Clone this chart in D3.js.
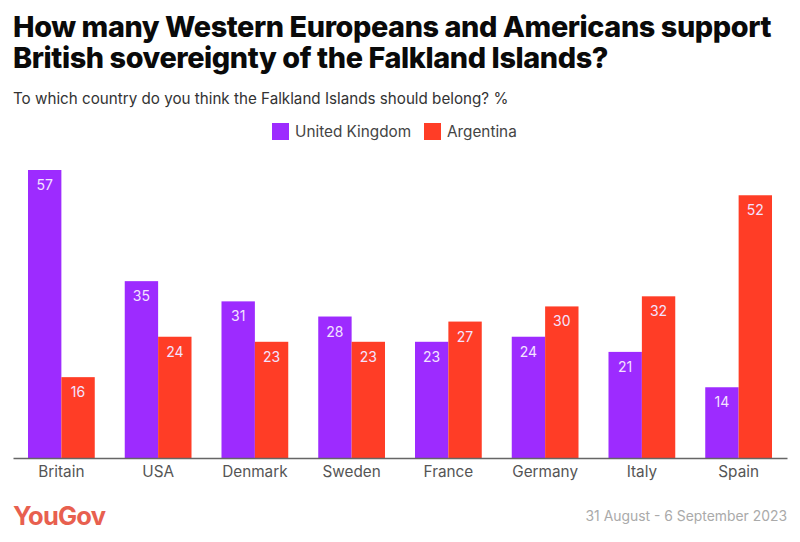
<!DOCTYPE html>
<html>
<head>
<meta charset="utf-8">
<script src="https://cdn.jsdelivr.net/npm/d3@7"></script>
<style>
body{margin:0;background:#fff;}
svg{display:block;font-family:Inter,sans-serif;}
</style>
</head>
<body>
<div id="chart"></div>
<script>
const countries=["Britain","USA","Denmark","Sweden","France","Germany","Italy","Spain"];
const seriesNames=["United Kingdom","Argentina"];
const ukValues=[57,35,31,28,23,24,21,14];
const argValues=[16,24,23,23,27,30,32,52];
const colors=["#9d2bff","#ff3d26"];

const width=800,height=542;
const svg=d3.select("#chart").append("svg").attr("width",width).attr("height",height);

const x=d3.scaleBand().domain(countries).range([13,787]).paddingInner(0.31).paddingOuter(0.155);
const x1=d3.scaleBand().domain(seriesNames).range([0,x.bandwidth()]);
const y=d3.scaleLinear().domain([0,57]).range([458,170]);

// title block
svg.selectAll(".title").data(["How many Western Europeans and Americans support","British sovereignty of the Falkland Islands?"])
  .enter().append("text").attr("class","title")
  .attr("x",13).attr("y",(d,i)=>37+i*31)
  .attr("font-size",28.8).attr("font-weight",800).attr("letter-spacing",-0.4).attr("fill","#0a0a0a")
  .text(d=>d);
svg.append("text").attr("x",13).attr("y",104).attr("font-size",15.2).attr("fill","#333")
  .text("To which country do you think the Falkland Islands should belong? %");

// legend
const legendX=[272,424];
seriesNames.forEach((name,i)=>{
  svg.append("rect").attr("x",legendX[i]).attr("y",123).attr("width",17).attr("height",17).attr("fill",colors[i]);
  svg.append("text").attr("x",legendX[i]+23).attr("y",137).attr("font-size",15.3).attr("fill","#444").text(name);
});

// bars
[ukValues,argValues].forEach((values,s)=>{
  const g=svg.append("g");
  g.selectAll("rect").data(values).enter().append("rect")
    .attr("x",(d,i)=>x(countries[i])+x1(seriesNames[s]))
    .attr("y",d=>y(d))
    .attr("width",x1.bandwidth())
    .attr("height",d=>y(0)-y(d))
    .attr("fill",colors[s]);
  g.selectAll("text").data(values).enter().append("text")
    .attr("x",(d,i)=>x(countries[i])+x1(seriesNames[s])+x1.bandwidth()/2)
    .attr("y",d=>y(d)+20)
    .attr("text-anchor","middle").attr("font-size",14).attr("fill","#f3e3ff")
    .text(d=>d);
});

// axis
const axis=svg.append("g").attr("transform","translate(0,458)").call(d3.axisBottom(x).tickSize(0).tickPadding(8));
axis.select(".domain").attr("stroke","#666").attr("stroke-width",1.5);
axis.selectAll("text").attr("font-size",15.3).attr("font-family","Inter,sans-serif").attr("fill","#555");

// footer
svg.append("text").attr("x",13).attr("y",525).attr("font-size",25.5).attr("font-weight",700).attr("letter-spacing",-0.8).attr("fill","#e8604f").text("YouGov");
svg.append("text").attr("x",787).attr("y",521).attr("text-anchor","end").attr("font-size",13.9).attr("fill","#aaa").text("31 August - 6 September 2023");
</script>
</body>
</html>
